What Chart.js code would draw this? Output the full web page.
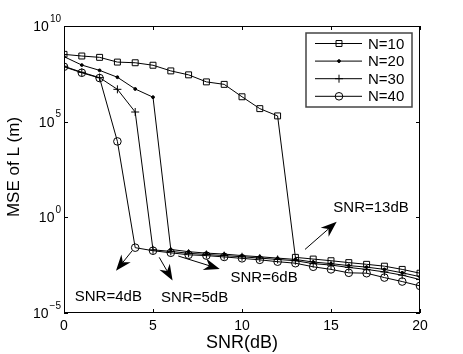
<!DOCTYPE html>
<html>
<head>
<meta charset="utf-8">
<script src="https://cdn.jsdelivr.net/npm/chart.js@4.4.1/dist/chart.umd.min.js"></script>
<style>
html, body { margin: 0; padding: 0; background: #fff; }
</style>
</head>
<body>
<canvas id="mseChart" width="463" height="354"></canvas>
<script>
// values
var snr = [0, 1, 2, 3, 4, 5, 6, 7, 8, 9, 10, 11, 12, 13, 14, 15, 16, 17, 18, 19, 20];
var mseN10 = [3.3e8, 2.7e8, 2.3e8, 1.3e8, 1.2e8, 8.9e7, 4.5e7, 2.8e7, 1.2e7, 8.9e6, 2.0e6,
              4.8e5, 2.0e5, 8.1e-3, 6.6e-3, 5.4e-3, 4.3e-3, 3.5e-3, 2.8e-3, 1.9e-3, 1.2e-3];
var mseN20 = [2.5e8, 9.1e7, 4.8e7, 2.1e7, 5.1e6, 1.9e6, 2.1e-2, 1.6e-2, 1.35e-2, 1.2e-2, 1.0e-2,
              8.7e-3, 7.4e-3, 6.3e-3, 4.6e-3, 3.8e-3, 3.0e-3, 2.5e-3, 1.9e-3, 1.26e-3, 7.9e-4];
var mseN30 = [7.9e7, 3.8e7, 2.0e7, 4.9e6, 3.2e5, 2.0e-2, 1.66e-2, 1.32e-2, 1.15e-2, 1.0e-2, 8.7e-3,
              7.4e-3, 6.3e-3, 5.4e-3, 3.8e-3, 3.2e-3, 2.4e-3, 1.9e-3, 1.4e-3, 9.5e-4, 5.6e-4];
var mseN40 = [7.4e7, 3.6e7, 1.9e7, 9.3e3, 2.6e-2, 1.8e-2, 1.4e-2, 1.1e-2, 1.0e-2, 8.5e-3, 7.2e-3,
              6.0e-3, 4.8e-3, 4.0e-3, 2.6e-3, 1.9e-3, 1.26e-3, 1.2e-3, 7.1e-4, 4.4e-4, 2.6e-4];
var seriesNames = ["N=10", "N=20", "N=30", "N=40"];
var xTicks = [0, 5, 10, 15, 20];
var yTickExp = [10, 5, 0, -5];

// annotation text + arrows (data coords)
var noteTexts = [
    { text: "SNR=4dB", x: 2.49, y: 6.6e-5 },
    { text: "SNR=5dB", x: 7.34, y: 5.9e-5 },
    { text: "SNR=6dB", x: 11.24, y: 6.8e-4 },
    { text: "SNR=13dB", x: 17.25, y: 3.1 }
];
var noteArrows = [
    { x0: 3.82, y0: 1.74e-2, x1: 2.92, y1: 1.6e-3 },
    { x0: 5.35, y0: 8.1e-3, x1: 6.1, y1: 5.0e-4 },
    { x0: 6.42, y0: 9.5e-3, x1: 8.75, y1: 2.0e-3 },
    { x0: 13.54, y0: 2.1e-2, x1: 15.32, y1: 0.59 }
];

var FONT = "'Liberation Sans', Arial, Helvetica, sans-serif";

function pts(ys) {
    return snr.map(function (x, i) { return { x: x, y: ys[i] }; });
}

function mkSet(label, ys, style, radius, fill) {
    return {
        label: label,
        data: pts(ys),
        borderColor: "#000",
        borderWidth: 1,
        pointStyle: style,
        pointRadius: radius,
        pointBorderColor: "#000",
        pointBackgroundColor: fill,
        pointBorderWidth: 1,
        tension: 0,
        fill: false
    };
}

var datasets = [
    mkSet(seriesNames[0], mseN10, "rect", 4.2, "rgba(255,255,255,0)"),
    mkSet(seriesNames[1], mseN20, "circle", 1.4, "#000"),
    mkSet(seriesNames[2], mseN30, "cross", 4, "#000"),
    mkSet(seriesNames[3], mseN40, "circle", 3.8, "rgba(255,255,255,0)")
];

function arrow(ctx, x0, y0, x1, y1) {
    var ang = Math.atan2(y1 - y0, x1 - x0);
    var len = 16, hw = 6, back = 11;
    ctx.beginPath();
    ctx.moveTo(x0, y0);
    ctx.lineTo(x1 - Math.cos(ang) * back, y1 - Math.sin(ang) * back);
    ctx.stroke();
    ctx.save();
    ctx.translate(x1, y1);
    ctx.rotate(ang);
    ctx.beginPath();
    ctx.moveTo(0, 0);
    ctx.lineTo(-len, -hw);
    ctx.lineTo(-back, 0);
    ctx.lineTo(-len, hw);
    ctx.closePath();
    ctx.fill();
    ctx.restore();
}

var decorPlugin = {
    id: "decor",
    afterDatasetsDraw: function (chart) {
        var ctx = chart.ctx, a = chart.chartArea;
        var xs = chart.scales.x, ys = chart.scales.y;
        ctx.save();
        ctx.strokeStyle = "#000";
        ctx.fillStyle = "#000";
        ctx.lineWidth = 1;

        // frame
        ctx.strokeRect(a.left + 0.5, a.top + 0.5, a.right - a.left - 1, a.bottom - a.top - 1);

        // inward ticks
        var tl = 4;
        ctx.beginPath();
        xTicks.forEach(function (v) {
            var px = Math.round(xs.getPixelForValue(v)) + 0.5;
            ctx.moveTo(px, a.bottom); ctx.lineTo(px, a.bottom - tl);
            ctx.moveTo(px, a.top); ctx.lineTo(px, a.top + tl);
        });
        yTickExp.forEach(function (e) {
            var py = Math.round(ys.getPixelForValue(Math.pow(10, e))) + 0.5;
            ctx.moveTo(a.left, py); ctx.lineTo(a.left + tl, py);
            ctx.moveTo(a.right, py); ctx.lineTo(a.right - tl, py);
        });
        ctx.stroke();

        // x tick labels
        ctx.font = "14px " + FONT;
        ctx.textAlign = "center";
        ctx.textBaseline = "middle";
        xTicks.forEach(function (v) {
            ctx.fillText(String(v), xs.getPixelForValue(v), a.bottom + 13);
        });

        // y tick labels 10^e
        yTickExp.forEach(function (e) {
            var py = ys.getPixelForValue(Math.pow(10, e));
            var sup = e < 0 ? "\u2212" + (-e) : String(e);
            ctx.font = "10px " + FONT;
            var sw = ctx.measureText(sup).width;
            ctx.textAlign = "left";
            var right = a.left - 3;
            ctx.fillText(sup, right - sw, py - 7);
            ctx.font = "14px " + FONT;
            ctx.textAlign = "right";
            ctx.fillText("10", right - sw - 1, py + 1);
        });

        // axis titles
        ctx.font = "18px " + FONT;
        ctx.textAlign = "center";
        ctx.fillText("SNR(dB)", (a.left + a.right) / 2, 343);
        ctx.save();
        ctx.translate(14, 167);
        ctx.rotate(-Math.PI / 2);
        ctx.font = "17px " + FONT;
        ctx.fillText("MSE of L (m)", 0, 0);
        ctx.restore();

        // annotations
        ctx.font = "15px " + FONT;
        noteTexts.forEach(function (n) {
            ctx.fillText(n.text, xs.getPixelForValue(n.x), ys.getPixelForValue(n.y));
        });
        noteArrows.forEach(function (n) {
            arrow(ctx, xs.getPixelForValue(n.x0), ys.getPixelForValue(n.y0),
                xs.getPixelForValue(n.x1), ys.getPixelForValue(n.y1));
        });

        // legend box
        var bx = 306, by = 33, bw = 106, bh = 74;
        ctx.fillStyle = "#fff";
        ctx.fillRect(bx, by, bw, bh);
        ctx.strokeStyle = "#444";
        ctx.lineWidth = 1.5;
        ctx.strokeRect(bx, by, bw, bh);
        ctx.lineWidth = 1;
        ctx.strokeStyle = "#000";
        ctx.font = "15px " + FONT;
        ctx.textAlign = "left";
        chart.data.datasets.forEach(function (ds, i) {
            var ry = by + 10.5 + i * 17.6;
            ctx.beginPath();
            ctx.moveTo(315, ry); ctx.lineTo(362, ry);
            ctx.stroke();
            ctx.fillStyle = ds.pointBackgroundColor;
            Chart.helpers.drawPoint(ctx, {
                pointStyle: ds.pointStyle, radius: ds.pointRadius,
                rotation: 0, borderWidth: 1
            }, 339, ry);
            ctx.fillStyle = "#000";
            ctx.fillText(ds.label, 368, ry + 1);
        });
        ctx.restore();
    }
};

new Chart(document.getElementById("mseChart").getContext("2d"), {
    type: "line",
    data: { datasets: datasets },
    options: {
        responsive: false,
        animation: false,
        devicePixelRatio: 1,
        layout: { padding: { left: 64, right: 43, top: 26, bottom: 41 } },
        plugins: { legend: { display: false }, tooltip: { enabled: false } },
        scales: {
            x: { type: "linear", min: 0, max: 20, display: false },
            y: { type: "logarithmic", min: 1e-5, max: 1e10, display: false }
        }
    },
    plugins: [decorPlugin]
});
</script>
</body>
</html>
